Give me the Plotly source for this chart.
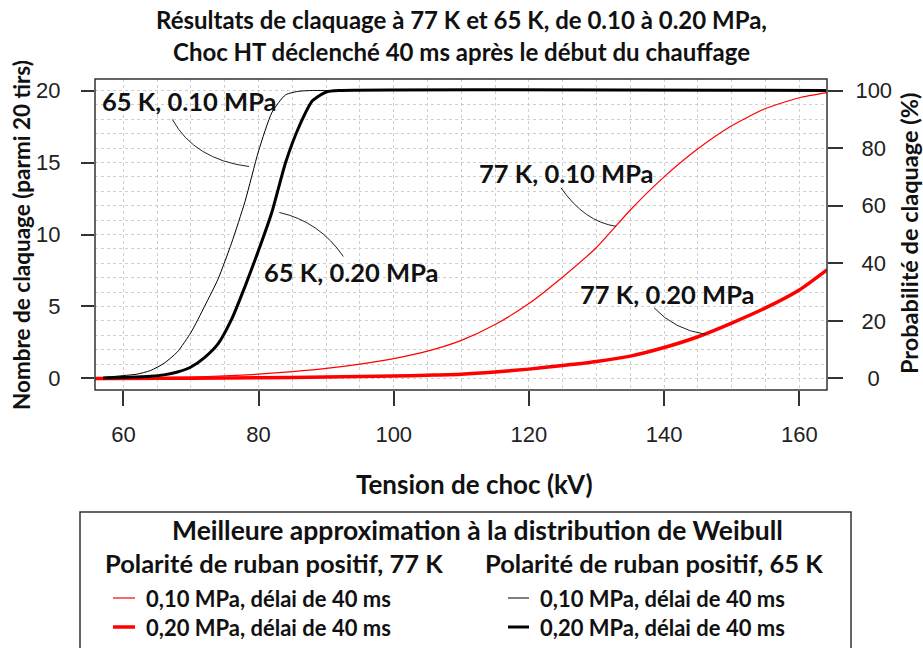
import plotly.graph_objects as go

# ---------------- data ----------------
# 65 K, 0.10 MPa  (thin black)
x_65_010 = [57.2, 60, 62, 64, 66, 68, 70, 72, 74, 76, 78, 80, 82, 84, 86, 88, 92, 164]
n_65_010 = [0.08, 0.2, 0.3, 0.55, 1.05, 1.85, 3.2, 5.0, 6.9, 9.4, 12.3, 15.8, 18.5, 19.7, 19.95, 20.0, 20.0, 20.0]
# 65 K, 0.20 MPa  (thick black)
x_65_020 = [57, 60, 62, 64, 66, 68, 70, 72, 74, 76, 78, 80, 82, 84, 86, 88, 90, 92, 164]
n_65_020 = [0.03, 0.07, 0.1, 0.15, 0.25, 0.45, 0.8, 1.45, 2.4, 4.1, 6.4, 8.9, 11.6, 15.0, 17.5, 19.3, 19.9, 20.0, 20.0]
# 77 K, 0.10 MPa  (thin red)
x_77_010 = [55.8, 60, 65, 70, 75, 80, 85, 90, 95, 100, 105, 110, 115, 120, 125, 130, 135, 140, 145, 150, 155, 160, 164.1]
n_77_010 = [0.0, 0.02, 0.05, 0.1, 0.18, 0.3, 0.48, 0.7, 1.0, 1.38, 1.9, 2.65, 3.75, 5.2, 7.05, 9.1, 11.7, 14.0, 15.95, 17.55, 18.75, 19.5, 19.85]
# 77 K, 0.20 MPa  (thick red)
x_77_020 = [55.8, 60, 70, 80, 90, 100, 105, 110, 115, 120, 125, 130, 135, 140, 145, 150, 155, 160, 164.1]
n_77_020 = [0.0, 0.005, 0.02, 0.05, 0.1, 0.17, 0.23, 0.3, 0.45, 0.65, 0.9, 1.18, 1.55, 2.15, 2.9, 3.85, 4.9, 6.15, 7.55]

x_ticks = [60, 80, 100, 120, 140, 160]
left_ticks = [0, 5, 10, 15, 20]
right_ticks = [0, 20, 40, 60, 80, 100]

title_lines = ["Résultats de claquage à 77 K et 65 K, de 0.10 à 0.20 MPa,",
               "Choc HT déclenché 40 ms après le début du chauffage"]
x_title = "Tension de choc (kV)"
y_title = "Nombre de claquage (parmi 20 tirs)"
y2_title = "Probabilité de claquage (%)"

curve_labels = ["65 K, 0.10 MPa", "65 K, 0.20 MPa", "77 K, 0.10 MPa", "77 K, 0.20 MPa"]

legend_title = "Meilleure approximation à la distribution de Weibull"
legend_headers = ["Polarité de ruban positif, 77 K", "Polarité de ruban positif, 65 K"]
legend_items = ["0,10 MPa, délai de 40 ms", "0,20 MPa, délai de 40 ms"]

# ---------------- layout geometry ----------------
W, H = 923, 648
L, R, T, B = 95, 827, 79, 390
PW, PH = R - L, B - T


def px(xp):
    return (xp - L) / PW


def py(yp):
    return (B - yp) / PH


TXT = "Lato, 'Open Sans', sans-serif"
NUM = "'Liberation Sans', Arial, sans-serif"

fig = go.Figure()

series = [
    (x_77_010, n_77_010, "#ff0000", 1.2),
    (x_77_020, n_77_020, "#ff0000", 3.5),
    (x_65_010, n_65_010, "#000000", 1.0),
    (x_65_020, n_65_020, "#000000", 3.0),
]
for xs, ns, col, w in series:
    fig.add_trace(go.Scatter(x=xs, y=ns, mode="lines",
                             line=dict(color=col, width=w, shape="spline", smoothing=0.6),
                             showlegend=False, hoverinfo="skip"))

# invisible trace to activate right axis
fig.add_trace(go.Scatter(x=[x_ticks[0]], y=[0], yaxis="y2", mode="markers",
                         marker=dict(opacity=0), showlegend=False, hoverinfo="skip"))

grid = dict(showgrid=True, gridcolor="#cfcfcf", griddash="dot", gridwidth=1)

fig.update_layout(
    width=W, height=H,
    margin=dict(l=L, r=W - R, t=T, b=H - B, pad=0, autoexpand=False),
    plot_bgcolor="white", paper_bgcolor="white",
    showlegend=False,
    xaxis=dict(range=[55.8, 164.1], tickmode="array", tickvals=x_ticks,
               ticks="outside", ticklen=15, tickwidth=1.5, tickcolor="#333",
               tickfont=dict(family=NUM, size=22, color="#222"),
               ticklabelstandoff=10, automargin=False,
               zeroline=False, showline=False,
               minor=dict(tickmode="linear", tick0=0, dtick=5, ticks="", **grid),
               **grid),
    yaxis=dict(range=[-0.8, 20.8], tickmode="array", tickvals=left_ticks,
               ticks="outside", ticklen=13, tickwidth=1.5, tickcolor="#333",
               tickfont=dict(family=NUM, size=22, color="#222"),
               ticklabelstandoff=16, automargin=False,
               zeroline=False, showline=False,
               minor=dict(tickmode="linear", tick0=0, dtick=1, ticks="", **grid),
               **grid),
    yaxis2=dict(range=[-4, 104], overlaying="y", side="right", anchor="x",
                tickmode="array", tickvals=right_ticks,
                ticktext=["\u2008" * (3 - len(str(v))) + str(v) for v in right_ticks],
                ticks="outside", ticklen=15, tickwidth=1.5, tickcolor="#333",
                tickfont=dict(family=NUM, size=22, color="#222"),
                ticklabelstandoff=8, automargin=False,
                showgrid=False, zeroline=False, showline=False),
)

# frame
fig.add_shape(type="rect", xref="paper", yref="paper", x0=0, x1=1, y0=0, y1=1,
              line=dict(color="#333", width=1.5), fillcolor="rgba(0,0,0,0)", layer="above")

annots = []
# title lines
for txt, yp in zip(title_lines, [20, 52]):
    annots.append(dict(text=f"<b>{txt}</b>", x=px(462), y=py(yp), xref="paper", yref="paper",
                       xanchor="center", yanchor="middle", showarrow=False,
                       font=dict(family=TXT, size=24, color="#111")))
# axis titles
annots.append(dict(text=f"<b>{x_title}</b>", x=px(474), y=py(484), xref="paper", yref="paper",
                   xanchor="center", yanchor="middle", showarrow=False,
                   font=dict(family=TXT, size=26, color="#111")))
annots.append(dict(text=f"<b>{y_title}</b>", x=px(21), y=py(235), xref="paper", yref="paper",
                   xanchor="center", yanchor="middle", showarrow=False, textangle=-90,
                   font=dict(family=TXT, size=22.5, color="#111")))
annots.append(dict(text=f"<b>{y2_title}</b>", x=px(909), y=py(234), xref="paper", yref="paper",
                   xanchor="center", yanchor="middle", showarrow=False, textangle=-90,
                   font=dict(family=TXT, size=23.5, color="#111")))

# curve labels (data coords) and leader lines
label_pos = [(69.76, 19.24), (93.7, 7.43), (125.5, 14.24), (140.5, 5.9)]
leaders = [
    ((67.25, 17.99), (70.5, 15.21), (78.58, 14.72)),
    ((83.08, 11.53), (89.0, 10.90), (92.54, 8.47)),
    ((124.75, 13.24), (128.2, 10.90), (132.87, 10.57)),
    ((138.52, 4.91), (141.48, 3.40), (146.2, 3.06)),
]
for lab, (lx, ly) in zip(curve_labels, label_pos):
    annots.append(dict(text=f"<b>{lab}</b>", x=lx, y=ly, xref="x", yref="y",
                       xanchor="center", yanchor="middle", showarrow=False,
                       font=dict(family=TXT, size=25.5, color="#111")))
for s, c, e in leaders:
    fig.add_shape(type="path", xref="x", yref="y",
                  path=f"M {s[0]},{s[1]} Q {c[0]},{c[1]} {e[0]},{e[1]}",
                  line=dict(color="#222", width=1))

# legend box
fig.add_shape(type="rect", xref="paper", yref="paper", x0=px(80), x1=px(851), y0=py(660), y1=py(512),
              line=dict(color="#333", width=1.5), fillcolor="rgba(0,0,0,0)")
annots.append(dict(text=f"<b>{legend_title}</b>", x=px(477), y=py(530), xref="paper", yref="paper",
                   xanchor="center", yanchor="middle", showarrow=False,
                   font=dict(family=TXT, size=26.5, color="#111")))
for hdr, xl in zip(legend_headers, [103, 483]):
    annots.append(dict(text=f"<b>{hdr}</b>", x=px(xl), y=py(563), xref="paper", yref="paper",
                       xanchor="left", yanchor="middle", showarrow=False,
                       font=dict(family=TXT, size=25.5, color="#111")))
key_specs = [
    (113, 135, 144, 598, "#ff0000", 1.2, legend_items[0]),
    (113, 135, 144, 627, "#ff0000", 3.5, legend_items[1]),
    (508, 529, 538, 598, "#000000", 1.0, legend_items[0]),
    (508, 529, 538, 627, "#000000", 3.0, legend_items[1]),
]
for x0, x1, xt, yy, col, w, txt in key_specs:
    fig.add_shape(type="line", xref="paper", yref="paper", x0=px(x0), x1=px(x1), y0=py(yy), y1=py(yy),
                  line=dict(color=col, width=w))
    annots.append(dict(text=f"<b>{txt}</b>", x=px(xt), y=py(yy), xref="paper", yref="paper",
                       xanchor="left", yanchor="middle", showarrow=False,
                       font=dict(family=TXT, size=22, color="#111")))

fig.update_layout(annotations=annots)
fig.write_html("out.html", config={"displayModeBar": False},
               post_script="document.body.style.margin='0px';")
